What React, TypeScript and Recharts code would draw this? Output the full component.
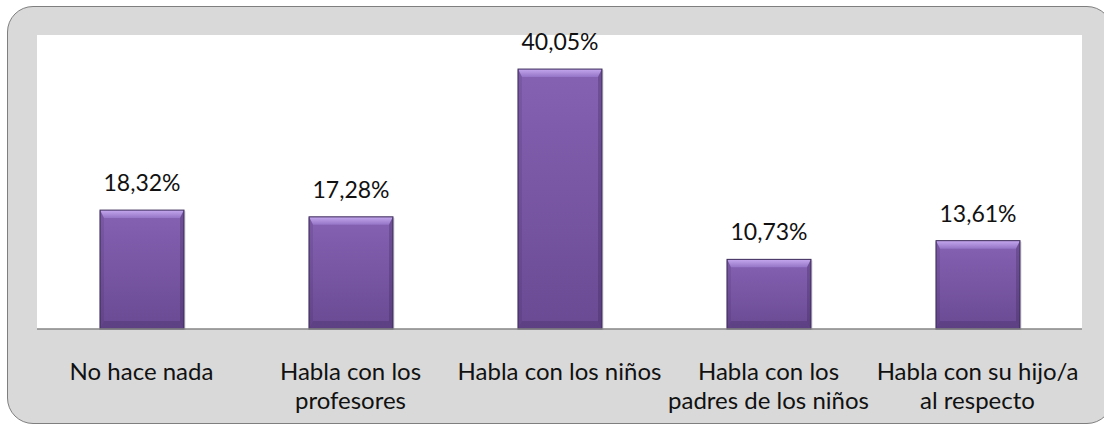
import { Bar, BarChart, CartesianGrid, LabelList, XAxis, YAxis } from "recharts"

const CATEGORIES = [
  "No hace nada",
  "Habla con los profesores",
  "Habla con los niños",
  "Habla con los padres de los niños",
  "Habla con su hijo/a al respecto",
]

// how each category label is broken into lines under the axis
const TICK_LINES = [
  ["No hace nada"],
  ["Habla con los", "profesores"],
  ["Habla con los niños"],
  ["Habla con los", "padres de los niños"],
  ["Habla con su hijo/a", "al respecto"],
]

const VALUES = [18.32, 17.28, 40.05, 10.73, 13.61]

const data = CATEGORIES.map((name, i) => ({ name, value: VALUES[i], lines: TICK_LINES[i] }))

const FONT = "Lato, 'Open Sans', sans-serif"

const fmt = (v: unknown) => `${Number(v).toFixed(2).replace(".", ",")}%`

const Tick = (props: any) => {
  const { x, y, index } = props
  const lines = TICK_LINES[index] ?? []
  return (
    <g>
      {lines.map((t, i) => (
        <text
          key={i}
          x={x}
          y={y + 43 + i * 29}
          textAnchor="middle"
          fill="#111"
          fontSize={24}
          fontFamily={FONT}
        >
          {t}
        </text>
      ))}
    </g>
  )
}

const BevelBar = (props: any) => {
  const { x, y, width: w, height: h } = props
  if (!h || h <= 0) return null
  const b = Math.min(8, h / 2)
  const s = 4
  return (
    <g>
      <rect x={x - 1} y={y + 1} width={w + 3} height={h} fill="#000" fillOpacity={0.08} />
      <rect x={x} y={y} width={w} height={h} fill="url(#barFill)" />
      <polygon
        points={`${x},${y} ${x + w},${y} ${x + w - s},${y + b} ${x + s},${y + b}`}
        fill="url(#topBevel)"
      />
      <polygon
        points={`${x},${y} ${x + s},${y + b} ${x + s},${y + h - b} ${x},${y + h}`}
        fill="#2a1a45"
        fillOpacity={0.12}
      />
      <polygon
        points={`${x + w},${y} ${x + w - s},${y + b} ${x + w - s},${y + h - b} ${x + w},${y + h}`}
        fill="#2a1a45"
        fillOpacity={0.25}
      />
      <polygon
        points={`${x},${y + h} ${x + s},${y + h - b} ${x + w - s},${y + h - b} ${x + w},${y + h}`}
        fill="#2a1a45"
        fillOpacity={0.2}
      />
      <rect x={x} y={y} width={w} height={h} fill="none" stroke="#3b2a58" strokeWidth={1} />
    </g>
  )
}

export default function App() {
  return (
    <div
      style={{
        position: "absolute",
        left: 0,
        top: 0,
        width: 1104,
        height: 425,
        overflow: "hidden",
        background: "#fff",
      }}
    >
      <div
        style={{
          position: "absolute",
          left: 7,
          top: 6,
          width: 1106,
          height: 418,
          boxSizing: "border-box",
          border: "1.5px solid #7f7f7f",
          borderRadius: 26,
          background: "#d9d9d9",
        }}
      />
      <div style={{ position: "absolute", left: 0, top: 0 }}>
        <BarChart
          width={1104}
          height={425}
          data={data}
          margin={{ top: 35, left: 37, right: 22, bottom: 6 }}
        >
          <defs>
            <linearGradient id="barFill" x1="0" y1="0" x2="0" y2="1">
              <stop offset="0%" stopColor="#8662b3" />
              <stop offset="100%" stopColor="#6a4a93" />
            </linearGradient>
            <linearGradient id="topBevel" x1="0" y1="0" x2="0" y2="1">
              <stop offset="0%" stopColor="#c4a8ee" />
              <stop offset="100%" stopColor="#9474c6" />
            </linearGradient>
          </defs>
          <CartesianGrid fill="#ffffff" horizontal={false} vertical={false} stroke="none" />
          <XAxis
            dataKey="name"
            interval={0}
            height={90}
            tickLine={false}
            axisLine={{ stroke: "#868686", strokeWidth: 1.5 }}
            tick={<Tick />}
          />
          <YAxis hide domain={[0, 45.3]} />
          <Bar dataKey="value" barSize={84} shape={<BevelBar />} isAnimationActive={false}>
            <LabelList
              dataKey="value"
              position="top"
              offset={19}
              formatter={fmt}
              fill="#111"
              fontSize={23}
              fontFamily={FONT}
            />
          </Bar>
        </BarChart>
      </div>
    </div>
  )
}
